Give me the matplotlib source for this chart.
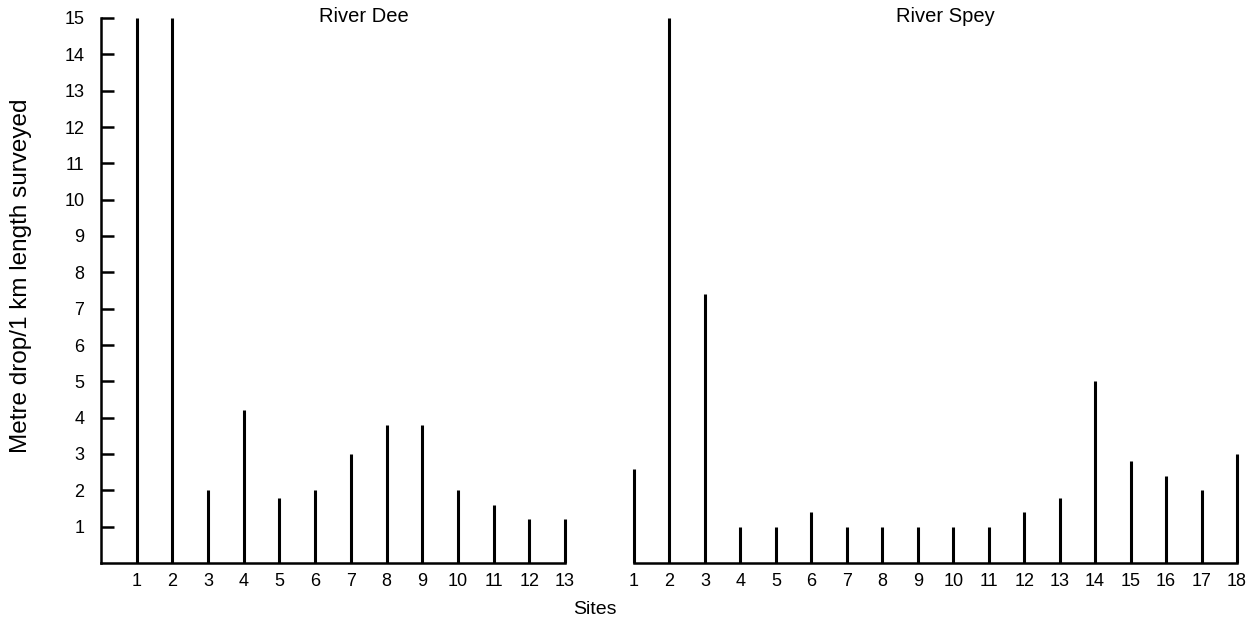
import numpy as np
from matplotlib import pyplot as plt

plt.rcParams['font.family'] = ['Liberation Sans', 'DejaVu Sans']

# metre drop per 1 km length surveyed
dee_sites = np.arange(1, 14)
dee_drop = [15, 15, 2.0, 4.2, 1.8, 2.0, 3.0, 3.8, 3.8, 2.0, 1.6, 1.2, 1.2]

spey_sites = np.arange(1, 19)
spey_drop = [2.6, 15, 7.4, 1.0, 1.0, 1.4, 1.0, 1.0, 1.0, 1.0, 1.0, 1.4, 1.8,
             5.0, 2.8, 2.4, 2.0, 3.0]

yticks = np.arange(1, 16)

W, H = 1258, 620
fig = plt.figure(figsize=(W/100, H/100), dpi=100)

def px_axes(x0, x1, y0, y1):
    # pixel box -> figure fraction
    return fig.add_axes([x0/W, (H-y1)/H, (x1-x0)/W, (y1-y0)/H])

ax1 = px_axes(101, 565, 18, 563)
ax2 = px_axes(634, 1237, 18, 563)

lw_bar = 2.2
lw_ax = 1.8
fs = 13

ax1.vlines(dee_sites, 0, dee_drop, colors="k", linewidth=lw_bar, clip_on=False)
ax1.set_xlim(0, 13)
ax1.set_ylim(0, 15)
ax1.set_xticks(dee_sites)
ax1.set_yticks(yticks)
ax1.tick_params(axis="y", direction="in", length=9, width=lw_ax, labelsize=fs, pad=12)
ax1.tick_params(axis="x", length=0, labelsize=fs, pad=7)
for s in ["top", "right"]:
    ax1.spines[s].set_visible(False)
for s in ["left", "bottom"]:
    ax1.spines[s].set_linewidth(lw_ax)
    ax1.spines[s].set_capstyle("projecting")

ax2.vlines(spey_sites, 0, spey_drop, colors="k", linewidth=lw_bar, clip_on=False)
ax2.set_xlim(1, 18)
ax2.set_ylim(0, 15)
ax2.set_xticks(spey_sites)
ax2.set_yticks([])
ax2.tick_params(axis="x", length=0, labelsize=fs, pad=7)
for s in ["top", "right", "left"]:
    ax2.spines[s].set_visible(False)
ax2.spines["bottom"].set_linewidth(lw_ax)

fig.text(364/W, 1 - 17/H, "River Dee", fontsize=14.5, ha="center", va="center")
fig.text(945/W, 1 - 17/H, "River Spey", fontsize=14.5, ha="center", va="center")
fig.text(21/W, 1 - 276/H, "Metre drop/1 km length surveyed", fontsize=17.5,
         rotation=90, ha="center", va="center")
fig.text(595/W, 1 - 609/H, "Sites", fontsize=14, ha="center", va="center")

fig.savefig("out.png", dpi=100)
